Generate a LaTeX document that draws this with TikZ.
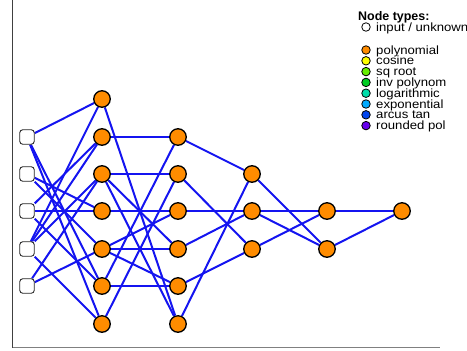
\documentclass[tikz,border=0pt]{standalone}
\usepackage{fontspec}
\setmainfont{Liberation Sans}
\newfontfamily\legfont[FakeStretch=1.1]{Liberation Sans}
\usetikzlibrary{backgrounds}
\definecolor{nodeorange}{HTML}{FF8C00}
\definecolor{edgeblue}{HTML}{1414F0}
\definecolor{cosyellow}{HTML}{FFFF00}
\definecolor{sqgreen}{HTML}{66EE00}
\definecolor{invgreen}{HTML}{00CC22}
\definecolor{logcyan}{HTML}{00DDAA}
\definecolor{expblue}{HTML}{00AAFF}
\definecolor{atanblue}{HTML}{0044EE}
\definecolor{rndpurple}{HTML}{6600EE}
\begin{document}
\begin{tikzpicture}[x=1bp,y=-1bp,
  fn/.style={circle,draw=black,line width=1.3bp,fill=nodeorange,minimum size=16.5bp,inner sep=0pt},
  inp/.style={rectangle,rounded corners=3bp,draw=black!85,line width=0.9bp,fill=white,minimum size=14.5bp,inner sep=0pt},
  edge/.style={draw=edgeblue,line width=2bp},
  legdot/.style={circle,draw=black,line width=0.8bp,minimum size=8.5bp,inner sep=0pt},
  legtext/.style={anchor=base west,font=\legfont\fontsize{12}{12}\selectfont,inner sep=0pt},
  axisline/.style={draw=black!75,line width=1bp}]
\useasboundingbox (0,0) rectangle (467,350);
% axes
\coordinate (axtop) at (12.5,0);
\coordinate (axcorner) at (12.5,347.5);
\coordinate (axright) at (440,347.5);
\draw[axisline] (axtop) -- (axcorner);
\draw[axisline,draw=black!50] (axcorner) -- (axright);
% inputs
\foreach \i/\y in {1/137,2/174,3/211,4/249,5/286}
  \node[inp] (I\i) at (27,\y) {};
% layer A
\foreach \i/\y in {1/99,2/137,3/174,4/211,5/249,6/286,7/324}
  \node[fn] (A\i) at (102,\y) {};
% layer B
\foreach \i/\y in {1/137,2/174,3/211,4/249,5/286,6/324}
  \node[fn] (B\i) at (178,\y) {};
% layer C
\foreach \i/\y in {1/174,2/211,3/249}
  \node[fn] (C\i) at (252,\y) {};
% layer D
\foreach \i/\y in {1/211,2/249}
  \node[fn] (D\i) at (327,\y) {};
\node[fn] (E) at (402,211) {};
% edges
\begin{scope}[on background layer]
\foreach \a/\b in {I1/A1,I1/A6,I1/A7,I2/A4,I2/A5,I3/A4,I3/A2,I3/A6,
  I4/A1,I4/A2,I4/A3,I4/A7,I5/A5,I5/A3,
  A1/B6,A2/B1,A3/B2,A3/B4,A3/B6,A4/B3,A5/B3,A5/B4,A5/B5,A6/B5,A6/B1,A7/B2,
  B1/C1,B2/C3,B3/C2,B4/C2,B5/C3,B6/C1,
  C1/D2,C2/D1,C2/D2,C3/D1,D1/E,D2/E}
  \draw[edge] (\a) -- (\b);
\end{scope}
% legend
\node[anchor=base west,font=\bfseries\fontsize{12.5}{12.5}\selectfont,inner sep=0pt] (legtitle) at (358,20) {Node types:};
\node[legdot,fill=white] (L0) at (366,27) {};
\node[legtext] (T0) at (376,31) {input / unknown};
\foreach \k/\y/\c/\t in {1/50/nodeorange/polynomial,2/60.8/cosyellow/cosine,3/71.6/sqgreen/sq root,
  4/82.4/invgreen/inv polynom,5/93.2/logcyan/logarithmic,6/104/expblue/exponential,
  7/114.8/atanblue/arcus tan,8/125.6/rndpurple/rounded pol}{
  \node[legdot,fill=\c] (L\k) at (366,\y) {};
  \node[legtext] (T\k) at (376,\y+4) {\t};
}
\end{tikzpicture}
\end{document}
